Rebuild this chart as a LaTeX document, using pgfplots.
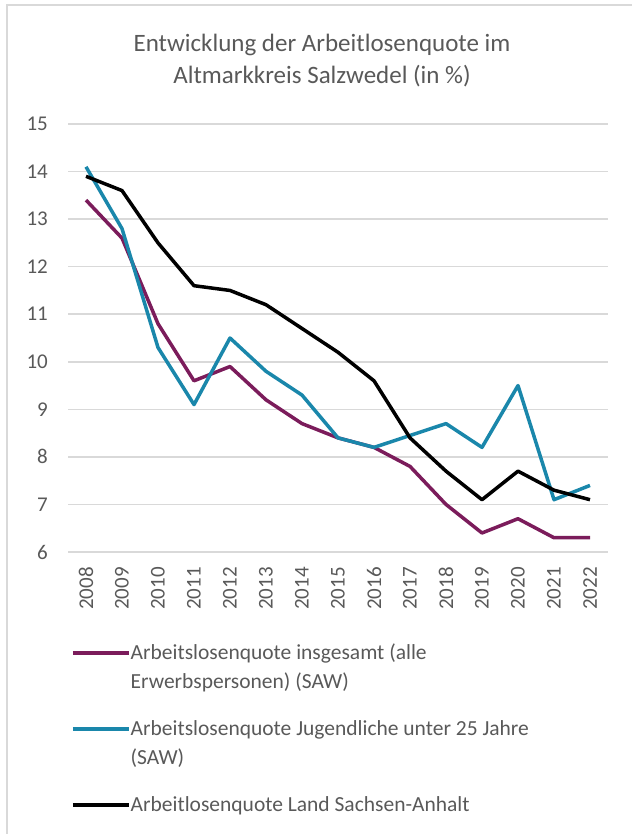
\documentclass[border=0pt]{standalone}
\usepackage{fontspec}
\setmainfont{Carlito}
\usepackage{pgfplots}
\usepackage{pgfplotstable}
\pgfplotsset{compat=1.18}
\definecolor{txt}{HTML}{595959}
\definecolor{grd}{HTML}{D9D9D9}
\definecolor{cP}{HTML}{7B1C5B}
\definecolor{cB}{HTML}{1A87AB}
\pgfplotstableread{
x  ges  jug  lsa
0  13.4 14.1 13.9
1  12.6 12.8 13.6
2  10.8 10.3 12.5
3  9.6  9.1  11.6
4  9.9  10.5 11.5
5  9.2  9.8  11.2
6  8.7  9.3  10.7
7  8.4  8.4  10.2
8  8.2  8.2  9.6
9  7.8  8.45 8.4
10 7.0  8.7  7.7
11 6.4  8.2  7.1
12 6.7  9.5  7.7
13 6.3  7.1  7.3
14 6.3  7.4  7.1
}\datatab
\begin{document}
\begin{tikzpicture}[x=1pt,y=1pt]
\path[use as bounding box] (0,0) rectangle (632,-834);
\draw[grd, line width=2.5pt] (7,-834) -- (7,-5) -- (632,-5);
\node[align=center, text=txt, font=\fontsize{25}{32}\selectfont] at (322,-61) {Entwicklung der Arbeitlosenquote im\\Altmarkkreis Salzwedel (in \%)};
\begin{axis}[at={(68pt,-552pt)}, anchor=south west, scale only axis,
  width=540pt, height=428pt,
  xmin=-0.5, xmax=14.5, ymin=6, ymax=15,
  ytick={6,...,15}, xtick={0,...,14},
  xticklabels={2008,2009,2010,2011,2012,2013,2014,2015,2016,2017,2018,2019,2020,2021,2022},
  axis line style={draw=none}, major tick length=0pt, tick style={draw=none},
  ymajorgrids, grid style={grd, line width=1.5pt},
  /pgf/number format/assume math mode=true,
  tick label style={text=txt, font=\fontsize{21}{24}\selectfont, inner sep=0pt},
  yticklabel style={anchor=east, xshift=-20pt},
  xticklabel style={rotate=90, anchor=east, xshift=-15pt},
  legend image code/.code={\draw[#1, line width=3.5pt] (0pt,0pt) -- (56pt,0pt);},
  legend style={at={(axis description cs:0,0)}, anchor=north west, xshift=3pt, yshift=-92pt,
    draw=none, fill=none, inner sep=0pt,
    nodes={inner sep=0pt, text=txt, font=\fontsize{21.5}{28.5}\selectfont},
    row sep=31pt, column sep=0pt, cells={anchor=west, align=left}},
  legend cell align=left,
  clip=false,
]
\addplot[cP, line width=3.5pt, line join=round, legend image post style={yshift=14.25pt}] table[x=x, y=ges] {\datatab};
\addlegendentry{Arbeitslosenquote insgesamt (alle\\Erwerbspersonen) (SAW)}
\addplot[cB, line width=3.5pt, line join=round, legend image post style={yshift=14.25pt}] table[x=x, y=jug] {\datatab};
\addlegendentry{Arbeitslosenquote Jugendliche unter 25 Jahre\\(SAW)}
\addplot[black, line width=3.5pt, line join=round] table[x=x, y=lsa] {\datatab};
\addlegendentry{Arbeitlosenquote Land Sachsen-Anhalt}
\end{axis}
\end{tikzpicture}
\end{document}
